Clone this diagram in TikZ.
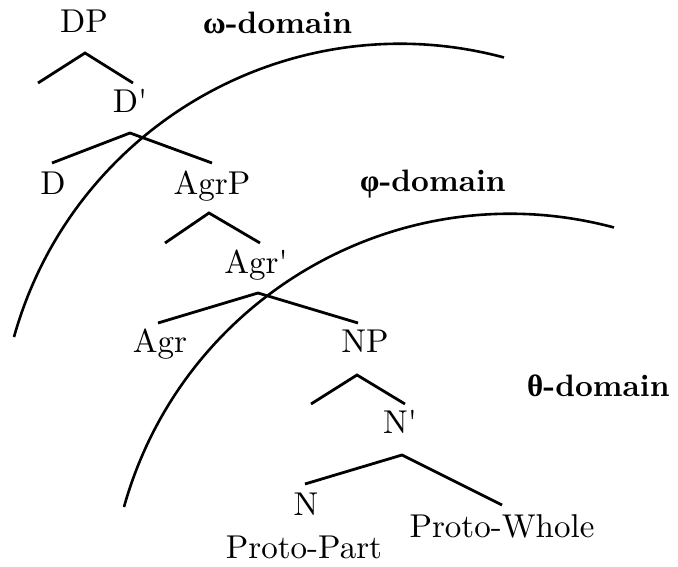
\documentclass[tikz,border=0pt]{standalone}
\usepackage{fontspec}
\newfontfamily\grk{Liberation Serif}
\newfontfamily\treefont{lmroman10-regular.otf}[BoldFont=lmroman10-bold.otf]
\tikzset{
  lbl/.style={font=\treefont\fontsize{33}{39}\selectfont, inner sep=0pt, anchor=base},
  dom/.style={font=\treefont\fontsize{31}{37}\selectfont\bfseries, inner sep=0pt, anchor=base west},
  branch/.style={line width=2.8pt},
  domarc/.style={line width=2.6pt}
}
\begin{document}
\begin{tikzpicture}[x=1pt,y=-1pt]
\useasboundingbox (0,0) rectangle (678,567);
% tree labels
\node[lbl] (DP) at (84,33) {DP};
\node[lbl] (Dbar) at (130,113) {D\textquotesingle};
\node[lbl] (D) at (53,195) {D};
\node[lbl] (AgrP) at (212,195) {AgrP};
\node[lbl] (Agrbar) at (256,273) {Agr\textquotesingle};
\node[lbl] (Agr) at (160,352) {Agr};
\node[lbl] (NP) at (365,352) {NP};
\node[lbl] (Nbar) at (400,433) {N\textquotesingle};
\node[lbl] (N) at (306,515) {N};
\node[lbl] (PW) at (502,537) {Proto-Whole};
\node[lbl] (PP) at (304,558) {Proto-Part};
% domain labels
\node[dom] (om) at (203,34) {{\grk\bfseries ω}-domain};
\node[dom] (ph) at (360,192) {{\grk\bfseries φ}-domain};
\node[dom] (th) at (527,396) {{\grk\bfseries θ}-domain};
% branch points
\coordinate (aDP) at (85,53);   \coordinate (eDPl) at (38,83);  \coordinate (eDbar) at (133,83);
\coordinate (aDbar) at (130,133); \coordinate (eD) at (52,163); \coordinate (eAgrP) at (212,163);
\coordinate (aAgrP) at (209,213); \coordinate (eAgrPl) at (165,243); \coordinate (eAgrbar) at (260,243);
\coordinate (aAgrbar) at (258,293); \coordinate (eAgr) at (158,323); \coordinate (eNP) at (358,323);
\coordinate (aNP) at (357,375); \coordinate (eNPl) at (311,404); \coordinate (eNbar) at (405,404);
\coordinate (aNbar) at (402,455); \coordinate (eN) at (305,484); \coordinate (ePW) at (502,505);
\draw[branch] (eDPl) -- (aDP) -- (eDbar);
\draw[branch] (eD) -- (aDbar) -- (eAgrP);
\draw[branch] (eAgrPl) -- (aAgrP) -- (eAgrbar);
\draw[branch] (eAgr) -- (aAgrbar) -- (eNP);
\draw[branch] (eNPl) -- (aNP) -- (eNbar);
\draw[branch] (eN) -- (aNbar) -- (ePW);
% domain arcs
\coordinate (arcA) at (14,337);
\coordinate (arcB) at (124,507);
\draw[domarc] (arcA) arc[start angle=-164.4, end angle=-75, radius=401];
\draw[domarc] (arcB) arc[start angle=-164.4, end angle=-75, radius=401];
\end{tikzpicture}
\end{document}
